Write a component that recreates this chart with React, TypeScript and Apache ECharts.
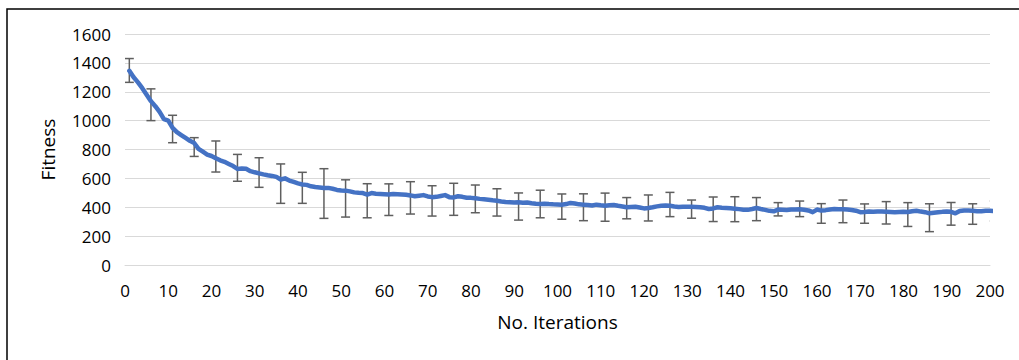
import React, { useEffect, useRef } from "react";
import * as echarts from "echarts";

// Mean fitness per iteration (iterations 1..201)
const meanFitness: number[] = [
  1345, 1300, 1265, 1225, 1180, 1135, 1100, 1060, 1010, 1000,
  950, 920, 900, 880, 860, 845, 805, 785, 765, 755,
  740, 725, 715, 700, 685, 665, 668, 666, 650, 642,
  635, 628, 622, 617, 610, 592, 600, 585, 575, 565,
  558, 555, 545, 540, 537, 533, 534, 528, 520, 516,
  515, 510, 503, 500, 498, 488, 498, 494, 492, 490,
  488, 492, 490, 488, 486, 482, 476, 480, 484, 475,
  470, 472, 478, 484, 470, 468, 476, 472, 466, 465,
  462, 458, 455, 452, 448, 445, 440, 437, 435, 433,
  434, 432, 433, 428, 424, 422, 425, 422, 420, 419,
  418, 422, 430, 426, 420, 418, 415, 412, 418, 414,
  411, 414, 416, 410, 405, 400, 402, 404, 398, 392,
  395, 400, 406, 410, 412, 410, 405, 402, 404, 403,
  404, 402, 400, 396, 388, 392, 400, 397, 395, 393,
  390, 387, 383, 382, 388, 395, 388, 382, 375, 372,
  384, 383, 381, 385, 384, 386, 383, 378, 366, 384,
  377, 380, 385, 388, 387, 386, 384, 381, 376, 366,
  367, 370, 369, 371, 370, 369, 367, 365, 367, 368,
  367, 372, 376, 370, 366, 358, 362, 365, 368, 370,
  368, 358, 374, 378, 377, 376, 373, 372, 375, 376,
  374,
];

// Error bars every 5 iterations
const errorIters: number[] = [
  1, 6, 11, 16, 21, 26, 31, 36, 41, 46, 51, 56, 61, 66, 71, 76, 81, 86, 91, 96,
  101, 106, 111, 116, 121, 126, 131, 136, 141, 146, 151, 156, 161, 166, 171, 176,
  181, 186, 191, 196, 201,
];
const errorUpper: number[] = [
  1430, 1220, 1037, 882, 859, 766, 743, 700, 642, 667, 590, 563, 562, 577, 549, 566,
  554, 528, 499, 518, 492, 493, 498, 467, 485, 503, 450, 471, 473, 467, 432, 443,
  425, 450, 423, 439, 432, 424, 433, 424, 443,
];
const errorLower: number[] = [
  1265, 1000, 847, 752, 644, 580, 538, 427, 427, 323, 332, 327, 343, 353, 339, 344,
  362, 339, 311, 327, 317, 307, 303, 320, 305, 335, 324, 301, 300, 307, 340, 335,
  289, 293, 289, 284, 267, 231, 276, 282, 305,
];

const xAxisName = "No. Iterations";
const yAxisName = "Fitness";

export default function App() {
  const ref = useRef<HTMLDivElement>(null);

  useEffect(() => {
    if (!ref.current) return;
    const chart = echarts.init(ref.current, undefined, { renderer: "svg" });
    const font = "'Open Sans', 'Noto Sans', sans-serif";
    const lineData = meanFitness.map((v, i) => [i + 1, v]);
    const errData = errorIters.map((x, i) => [x, errorUpper[i], errorLower[i]]);

    chart.setOption({
      animation: false,
      backgroundColor: "#ffffff",
      textStyle: { fontFamily: font },
      graphic: [
        {
          type: "rect",
          shape: { x: 7, y: 9, width: 1040, height: 400 },
          style: { fill: "none", stroke: "#000000", lineWidth: 1.5 },
          silent: true,
          z: 100,
        },
      ],
      grid: { left: 125, right: 29, top: 34, bottom: 95, containLabel: false },
      xAxis: {
        type: "value",
        min: 0,
        max: 200,
        interval: 10,
        name: xAxisName,
        nameLocation: "middle",
        nameGap: 47,
        nameTextStyle: { fontSize: 19, color: "#000000", fontFamily: font },
        axisLine: { show: true, lineStyle: { color: "#d9d9d9", width: 1 } },
        axisTick: { show: false },
        splitLine: { show: false },
        axisLabel: {
          fontSize: 17,
          color: "#000000",
          margin: 17,
          fontFamily: font,
          formatter: (v: number) => String(v),
        },
      },
      yAxis: {
        type: "value",
        min: 0,
        max: 1600,
        interval: 200,
        name: yAxisName,
        nameLocation: "middle",
        nameGap: 68,
        nameRotate: 90,
        nameTextStyle: { fontSize: 19, color: "#000000", fontFamily: font },
        axisLine: { show: false },
        axisTick: { show: false },
        splitLine: { show: true, lineStyle: { color: "#d9d9d9", width: 1 } },
        axisLabel: {
          fontSize: 17,
          color: "#000000",
          margin: 14,
          fontFamily: font,
          formatter: (v: number) => String(v),
        },
      },
      series: [
        {
          type: "custom",
          clip: true,
          z: 2,
          encode: { x: 0, y: [1, 2] },
          data: errData,
          renderItem: (params: any, api: any) => {
            const x = api.value(0);
            const top = api.coord([x, api.value(1)]);
            const bot = api.coord([x, api.value(2)]);
            const hw = 4.5;
            const style = { stroke: "#5f5f5f", lineWidth: 1.5, fill: "none" };
            return {
              type: "group",
              children: [
                { type: "line", shape: { x1: top[0], y1: top[1], x2: bot[0], y2: bot[1] }, style },
                { type: "line", shape: { x1: top[0] - hw, y1: top[1], x2: top[0] + hw, y2: top[1] }, style },
                { type: "line", shape: { x1: bot[0] - hw, y1: bot[1], x2: bot[0] + hw, y2: bot[1] }, style },
              ],
            };
          },
        },
        {
          type: "line",
          z: 3,
          data: lineData,
          showSymbol: false,
          symbol: "none",
          clip: true,
          smooth: false,
          lineStyle: { color: "#4472c4", width: 4.5, cap: "round", join: "round" },
        },
      ],
    });

    return () => {
      chart.dispose();
    };
  }, []);

  return (
    <div
      ref={ref}
      style={{ position: "fixed", left: 0, top: 0, width: 1019, height: 360 }}
    />
  );
}
